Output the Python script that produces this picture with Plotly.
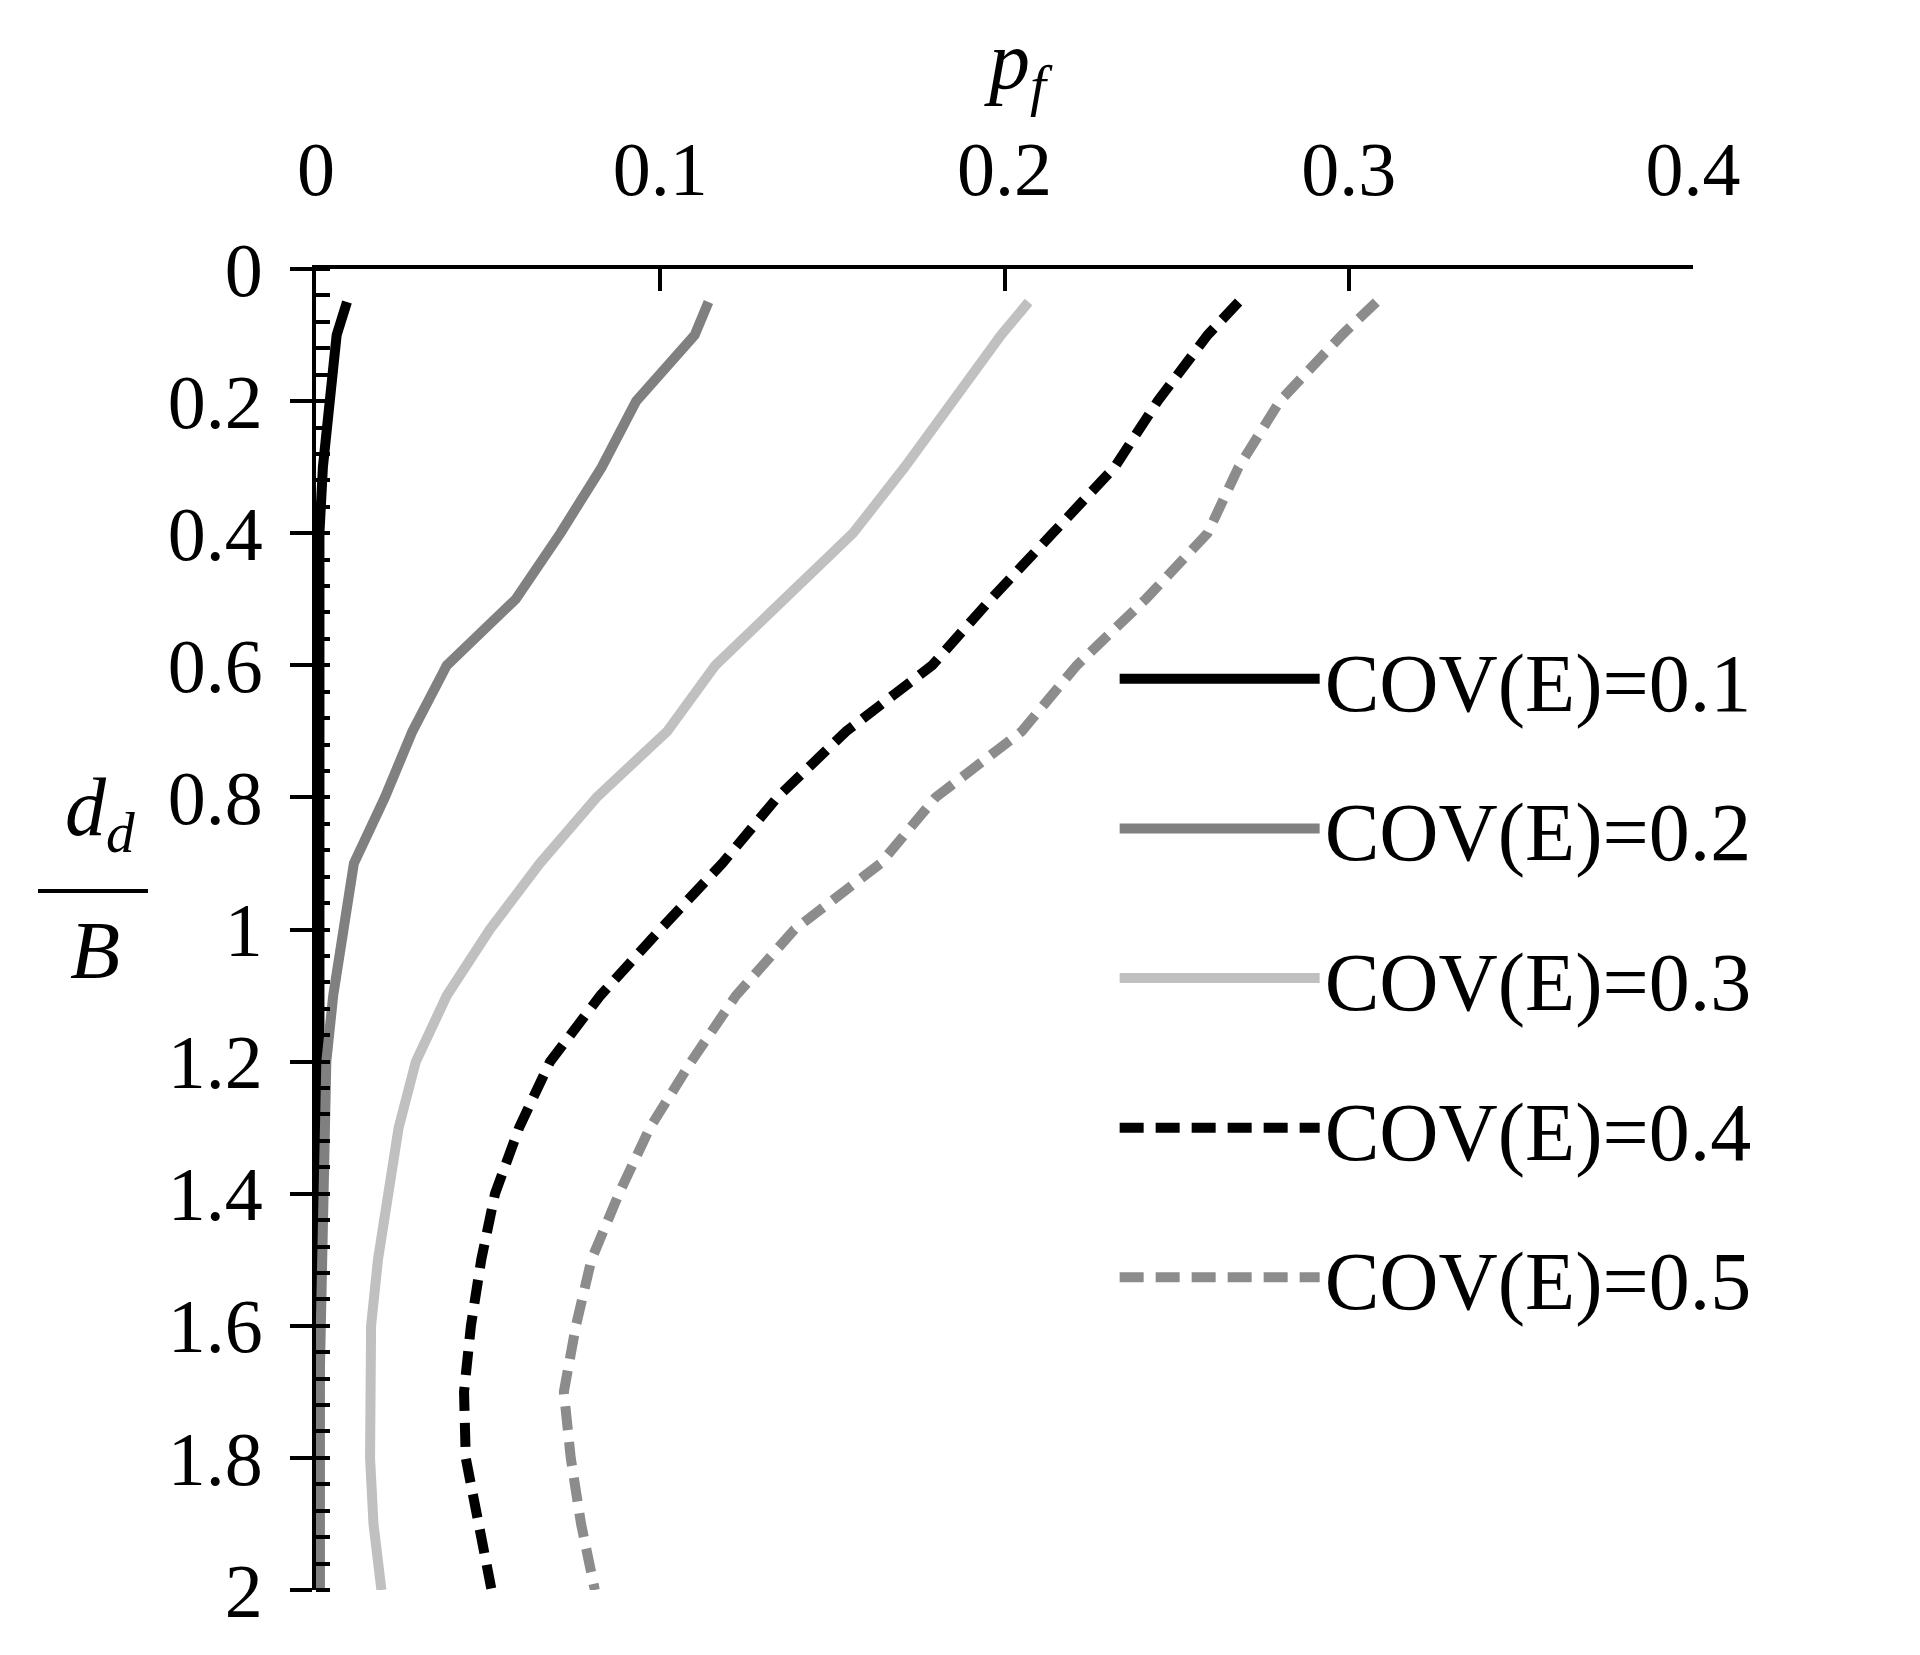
import plotly.graph_objects as go

depth = [0.05,0.1,0.2,0.3,0.4,0.5,0.6,0.7,0.8,0.9,1.0,1.1,1.2,1.3,1.4,1.5,1.6,1.7,1.8,1.9,2.0]
cov01 = [0.009,0.006,0.004,0.002,0.001,0.001,0.001,0.001,0.001,0.001,0.001,0.001,0.001,0.001,0.001,0.001,0.001,0.001,0.001,0.001,0.001]
cov02 = [0.114,0.110,0.093,0.083,0.071,0.058,0.038,0.028,0.020,0.011,0.008,0.005,0.003,0.0025,0.002,0.0015,0.001,0.001,0.001,0.001,0.001]
cov03 = [0.207,0.199,0.185,0.171,0.156,0.136,0.116,0.102,0.0815,0.065,0.0505,0.038,0.029,0.024,0.021,0.018,0.016,0.0157,0.0157,0.0167,0.019]
cov04 = [0.268,0.259,0.2445,0.232,0.214,0.196,0.179,0.154,0.134,0.118,0.100,0.0826,0.068,0.059,0.052,0.048,0.045,0.043,0.0435,0.047,0.051]
cov05 = [0.308,0.298,0.280,0.268,0.259,0.241,0.221,0.205,0.180,0.164,0.139,0.122,0.109,0.097,0.088,0.080,0.0755,0.072,0.074,0.077,0.081]
names = ["COV(E)=0.1","COV(E)=0.2","COV(E)=0.3","COV(E)=0.4","COV(E)=0.5"]
series = [cov01,cov02,cov03,cov04,cov05]
colors = ["#000000","#808080","#c0c0c0","#000000","#8c8c8c"]
dashes = ["solid","solid","solid","24px,12px","24px,12px"]

fig = go.Figure()
for i,(n,s,c,d) in enumerate(zip(names,series,colors,dashes)):
    fig.add_trace(go.Scatter(x=s,y=depth,mode="lines",name=n,legendgroup=f"g{i}",
                             line=dict(color=c,width=10,dash=d)))

font = "Liberation Serif, Times New Roman, serif"
L, R, T, B = 308, 235, 261, 73
PW, PH = 1920-L-R, 1655-T-B
fig.update_layout(
    width=1920,height=1655,plot_bgcolor="white",paper_bgcolor="white",
    margin=dict(l=L,r=R,t=T,b=B),
    font=dict(family=font,size=76,color="black"),
    legend=dict(x=0.58,y=0.735,xanchor="left",yanchor="top",itemwidth=200,
                font=dict(size=82),tracegroupgap=40,bgcolor="rgba(0,0,0,0)"),
    xaxis=dict(side="top",range=[0,0.4],tickvals=[0,0.1,0.2,0.3,0.4],
               ticktext=["0","0.1","0.2","0.3","0.4"],
               showgrid=False,zeroline=False,showline=True,linecolor="black",linewidth=4,
               ticks="inside",ticklen=22,tickwidth=4,tickcolor="black",
               tickfont=dict(size=76),ticklabelstandoff=40),
    yaxis=dict(range=[2,0],tickvals=[0,0.2,0.4,0.6,0.8,1,1.2,1.4,1.6,1.8,2],
               ticktext=["0","0.2","0.4","0.6","0.8","1","1.2","1.4","1.6","1.8","2"],
               showgrid=False,zeroline=False,showline=True,linecolor="black",linewidth=4,
               ticks="outside",ticklen=22,tickwidth=4,tickcolor="black",
               tickfont=dict(size=76),ticklabelstandoff=12,
               minor=dict(dtick=0.04,ticks="inside",ticklen=14,tickwidth=4,tickcolor="black")),
)
fig.add_annotation(text="<i>p</i><sub><i>f</i></sub>",xref="paper",yref="paper",
                   x=(1010-L)/PW,y=1+(T-5)/PH,yanchor="top",showarrow=False,font=dict(size=82))
fig.add_annotation(text="<i>d</i><sub><i>d</i></sub>",xref="paper",yref="paper",
                   x=(55-L)/PW,y=(1582-805)/PH,showarrow=False,font=dict(size=82))
fig.add_annotation(text="<i>B</i>",xref="paper",yref="paper",
                   x=(60-L)/PW,y=(1582-942)/PH,showarrow=False,font=dict(size=82))
fig.add_shape(type="line",xref="paper",yref="paper",
              x0=(30-L)/PW,x1=(140-L)/PW,y0=(1582-883)/PH,y1=(1582-883)/PH,
              line=dict(color="black",width=4))
fig.write_html("out.html")
